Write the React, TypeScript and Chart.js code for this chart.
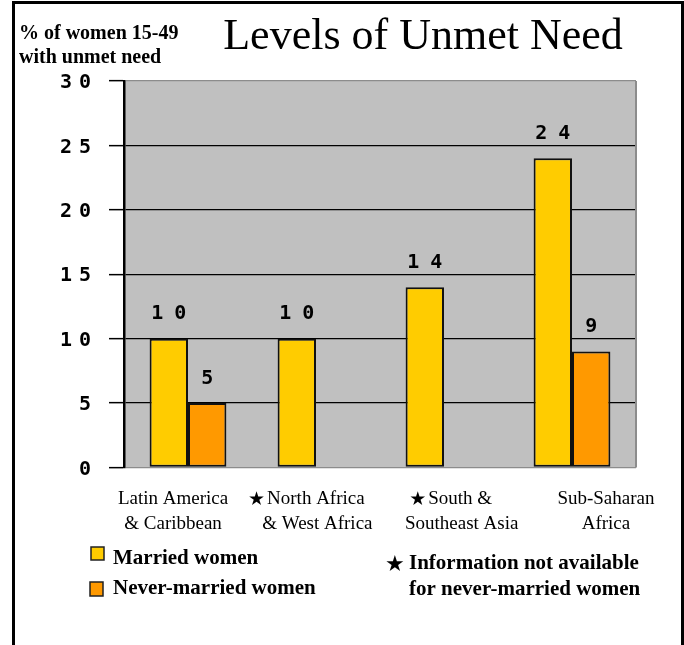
import React, { useEffect, useRef } from "react";
import { Chart, registerables } from "chart.js";

Chart.register(...registerables);

// ---- data ----
const categories: string[][] = [
  ["Latin America", "& Caribbean"],
  ["North Africa", "& West Africa"],
  ["South &", "Southeast Asia"],
  ["Sub-Saharan", "Africa"],
];
const marriedWomen: (number | null)[] = [10, 10, 14, 24];
const neverMarriedWomen: (number | null)[] = [5, null, null, 9];
const yTickValues: number[] = [0, 5, 10, 15, 20, 25, 30];
const seriesNames: string[] = ["Married women", "Never-married women"];
const chartTitle = "Levels of Unmet Need";
const yAxisTitle: string[] = ["% of women 15-49", "with unmet need"];
const noteText: string[] = ["Information not available", "for never-married women"];

// ---- style ----
const W = 684;
const H = 645;
const SERIF = '"Liberation Serif", "Times New Roman", serif';
const MONO = '"DejaVu Sans Mono", monospace';
const STAR_FONT = '"DejaVu Sans", sans-serif';
const YELLOW = "#FFCC00";
const ORANGE = "#FF9900";
const PLOT_GRAY = "#C0C0C0";
const EDGE_GRAY = "#8c8c8c";
const STAR = "\u2605";

function drawSpaced(
  ctx: CanvasRenderingContext2D,
  text: string,
  x: number,
  y: number,
  align: "center" | "right",
  gap: number
) {
  const chars = text.split("");
  const widths = chars.map((c) => ctx.measureText(c).width);
  const total = widths.reduce((a, b) => a + b, 0) + gap * (chars.length - 1);
  let cx = align === "center" ? x - total / 2 : x - total;
  ctx.textAlign = "left";
  chars.forEach((c, i) => {
    ctx.fillText(c, cx, y);
    cx += widths[i] + gap;
  });
}

const decorPlugin = {
  id: "decor",
  beforeDraw(chart: any) {
    const { ctx, chartArea } = chart;
    ctx.save();
    ctx.fillStyle = PLOT_GRAY;
    ctx.fillRect(chartArea.left, chartArea.top, chartArea.right - chartArea.left, chartArea.bottom - chartArea.top);
    ctx.restore();
  },
  beforeDatasetsDraw(chart: any) {
    const { ctx, chartArea } = chart;
    ctx.save();
    ctx.strokeStyle = EDGE_GRAY;
    ctx.lineWidth = 2;
    ctx.beginPath();
    ctx.moveTo(chartArea.right, chartArea.top);
    ctx.lineTo(chartArea.right, chartArea.bottom);
    ctx.stroke();
    ctx.restore();
  },
  afterDatasetsDraw(chart: any) {
    const { ctx } = chart;
    ctx.save();
    ctx.fillStyle = "#000";
    ctx.font = `bold 20px ${MONO}`;
    ctx.textBaseline = "middle";
    chart.data.datasets.forEach((ds: any, di: number) => {
      const meta = chart.getDatasetMeta(di);
      meta.data.forEach((bar: any, i: number) => {
        const v = ds.data[i];
        if (v === null || v === undefined) return;
        drawSpaced(ctx, String(v), bar.x, bar.y - 24.5, "center", 11);
      });
    });
    ctx.restore();
  },
  afterDraw(chart: any) {
    const { ctx } = chart;
    const yScale = chart.scales.y;
    const xScale = chart.scales.x;
    ctx.save();
    ctx.fillStyle = "#000";

    // y tick labels
    ctx.font = `bold 20px ${MONO}`;
    ctx.textBaseline = "middle";
    yScale.ticks.forEach((t: any) => {
      const py = yScale.getPixelForValue(t.value);
      drawSpaced(ctx, String(t.value), 91, py + 2, "right", 7);
    });

    // title
    ctx.textBaseline = "alphabetic";
    ctx.textAlign = "center";
    ctx.font = `44px ${SERIF}`;
    ctx.fillText(chartTitle, 423, 49);

    // y axis title
    ctx.textAlign = "left";
    ctx.font = `bold 20px ${SERIF}`;
    ctx.fillText(yAxisTitle[0], 19, 39);
    ctx.fillText(yAxisTitle[1], 19, 63);

    // x category labels
    const n = categories.length;
    categories.forEach((lines, i) => {
      const cx = xScale.getPixelForValue(i) + (i - (n - 1) / 2) * 16.3 + 9.5;
      const starred = neverMarriedWomen[i] === null;
      ctx.font = `19px ${SERIF}`;
      if (starred) {
        ctx.font = `19px ${STAR_FONT}`;
        const sw = ctx.measureText(STAR).width;
        ctx.font = `19px ${SERIF}`;
        const tw = ctx.measureText(lines[0]).width;
        const total = sw + 2 + tw;
        const start = cx - 11 - total / 2;
        ctx.textAlign = "left";
        ctx.font = `19px ${STAR_FONT}`;
        ctx.fillText(STAR, start, 505);
        ctx.font = `19px ${SERIF}`;
        ctx.fillText(lines[0], start + sw + 2, 504);
      } else {
        ctx.textAlign = "center";
        ctx.fillText(lines[0], cx, 504);
      }
      ctx.textAlign = "center";
      ctx.fillText(lines[1], cx, 529);
    });

    // legend
    ctx.lineWidth = 1.5;
    ctx.strokeStyle = "#222";
    ctx.fillStyle = YELLOW;
    ctx.fillRect(91, 547, 13, 13);
    ctx.strokeRect(91, 547, 13, 13);
    ctx.fillStyle = ORANGE;
    ctx.fillRect(90, 582, 13, 14);
    ctx.strokeRect(90, 582, 13, 14);
    ctx.fillStyle = "#000";
    ctx.textAlign = "left";
    ctx.font = `bold 21px ${SERIF}`;
    ctx.fillText(seriesNames[0], 113, 564);
    ctx.fillText(seriesNames[1], 113, 594);

    // note with star
    ctx.font = `22px ${STAR_FONT}`;
    ctx.fillText(STAR, 385, 571);
    ctx.font = `bold 21px ${SERIF}`;
    ctx.fillText(noteText[0], 409, 569);
    ctx.fillText(noteText[1], 409, 595);

    ctx.restore();
  },
};

export default function App() {
  const canvasRef = useRef<HTMLCanvasElement | null>(null);

  useEffect(() => {
    if (!canvasRef.current) return;
    const chart = new Chart(canvasRef.current, {
      type: "bar",
      data: {
        labels: categories.map((c) => c.join(" ")),
        datasets: [
          {
            label: seriesNames[0],
            data: marriedWomen,
            backgroundColor: YELLOW,
            borderColor: "#111",
            borderWidth: 2,
            borderSkipped: false,
            categoryPercentage: 0.6,
            barPercentage: 1,
          },
          {
            label: seriesNames[1],
            data: neverMarriedWomen,
            backgroundColor: ORANGE,
            borderColor: "#111",
            borderWidth: 2,
            borderSkipped: false,
            categoryPercentage: 0.6,
            barPercentage: 1,
          },
        ],
      },
      options: {
        responsive: false,
        animation: false,
        devicePixelRatio: 1,
        layout: { padding: { left: 0, right: 48, top: 81, bottom: 0 } },
        plugins: {
          legend: { display: false },
          tooltip: { enabled: false },
          title: { display: false },
        },
        scales: {
          x: {
            type: "category",
            grid: { display: false, drawTicks: false },
            border: { display: false },
            ticks: { display: false },
            afterFit: (s: any) => {
              s.height = 177.5;
            },
          },
          y: {
            min: 0,
            max: 30,
            afterBuildTicks: (s: any) => {
              s.ticks = yTickValues.map((v) => ({ value: v }));
            },
            ticks: { display: false },
            grid: {
              color: (c: any) =>
                c.tick && (c.tick.value === 0 || c.tick.value === 30) ? EDGE_GRAY : "#000",
              lineWidth: 1.3,
              tickLength: 15,
              tickColor: "#000",
              tickWidth: 1.5,
            },
            border: { display: true, color: "#000", width: 2.5 },
            afterFit: (s: any) => {
              s.width = 124;
            },
          },
        },
      },
      plugins: [decorPlugin],
    });
    return () => chart.destroy();
  }, []);

  return (
    <div
      style={{
        position: "fixed",
        left: 0,
        top: 0,
        width: W,
        height: H,
        background: "#fff",
        overflow: "hidden",
      }}
    >
      <div
        style={{
          position: "absolute",
          left: 12,
          top: 1,
          width: 672,
          height: 660,
          boxSizing: "border-box",
          borderLeft: "3px solid #000",
          borderTop: "3px solid #000",
          borderRight: "3px solid #000",
        }}
      />
      <canvas
        ref={canvasRef}
        width={W}
        height={H}
        style={{ position: "absolute", left: 0, top: 0, width: W, height: H }}
      />
    </div>
  );
}
